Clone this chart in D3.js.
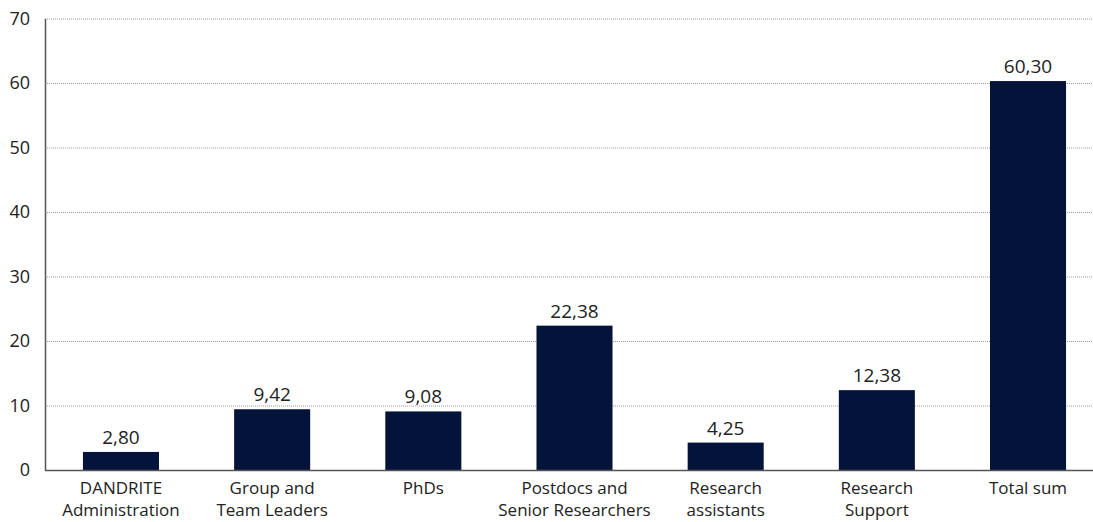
<!DOCTYPE html>
<html><head><meta charset="utf-8">
<script src="https://cdn.jsdelivr.net/npm/d3@7"></script>
<style>body{margin:0;background:#fff}svg{display:block}text{font-family:"Open Sans","Noto Sans",sans-serif;fill:#222}</style>
</head><body><svg id="c" width="1093" height="522"></svg>
<script>
const categories = [["DANDRITE","Administration"],["Group and","Team Leaders"],["PhDs"],["Postdocs and","Senior Researchers"],["Research","assistants"],["Research","Support"],["Total sum"]];
const values = [2.80, 9.42, 9.08, 22.38, 4.25, 12.38, 60.30];
const yTicks = [0,10,20,30,40,50,60,70];

const svg = d3.select("#c");
const x0 = 45, yBottom = 470, yTop = 18.5;
const x = d3.scaleBand().domain(d3.range(values.length)).range([x0, 1104]).paddingInner(0.497).paddingOuter(0.251);
const y = d3.scaleLinear().domain([0,70]).range([yBottom, yTop]);

// grid
svg.append("g").selectAll("line").data(yTicks.filter(d=>d>0)).join("line")
  .attr("x1", x0).attr("x2", 1093).attr("y1", d=>y(d)+0.5).attr("y2", d=>y(d)+0.5)
  .attr("stroke", "#999").attr("stroke-width", 1).attr("stroke-dasharray", "1,1");

// bars
svg.append("g").selectAll("rect").data(values).join("rect")
  .attr("x", (d,i)=>x(i)).attr("width", x.bandwidth())
  .attr("y", d=>y(d)).attr("height", d=>yBottom - y(d)).attr("fill", "#04133a");

// value labels
const fmt = d => d.toFixed(2).replace(".", ",");
svg.append("g").selectAll("text").data(values).join("text")
  .attr("x", (d,i)=>x(i)+x.bandwidth()/2).attr("y", d=>y(d)-8)
  .attr("text-anchor","middle").attr("font-size", 19).text(fmt);

// y axis
const yAxis = d3.axisLeft(y).tickValues(yTicks).tickSize(0).tickPadding(15);
const gy = svg.append("g").attr("transform", `translate(${x0},0)`).call(yAxis);
gy.select(".domain").attr("stroke","#555").attr("stroke-width",1.5);
gy.selectAll("text").attr("font-size", 18).attr("fill","#222").attr("font-family","'Open Sans','Noto Sans',sans-serif");

// x axis
svg.append("line").attr("x1", x0).attr("x2", 1093).attr("y1", yBottom+0.5).attr("y2", yBottom+0.5).attr("stroke","#555").attr("stroke-width",1.5);

const xl = svg.append("g").selectAll("text").data(categories).join("text")
  .attr("x", (d,i)=>x(i)+x.bandwidth()/2).attr("y", 494)
  .attr("text-anchor","middle").attr("font-size", 17);
xl.selectAll("tspan").data(d=>d).join("tspan")
  .attr("x", function(){return this.parentNode.getAttribute("x");})
  .attr("dy", (d,i)=>i===0?0:22).text(d=>d);
</script></body></html>
